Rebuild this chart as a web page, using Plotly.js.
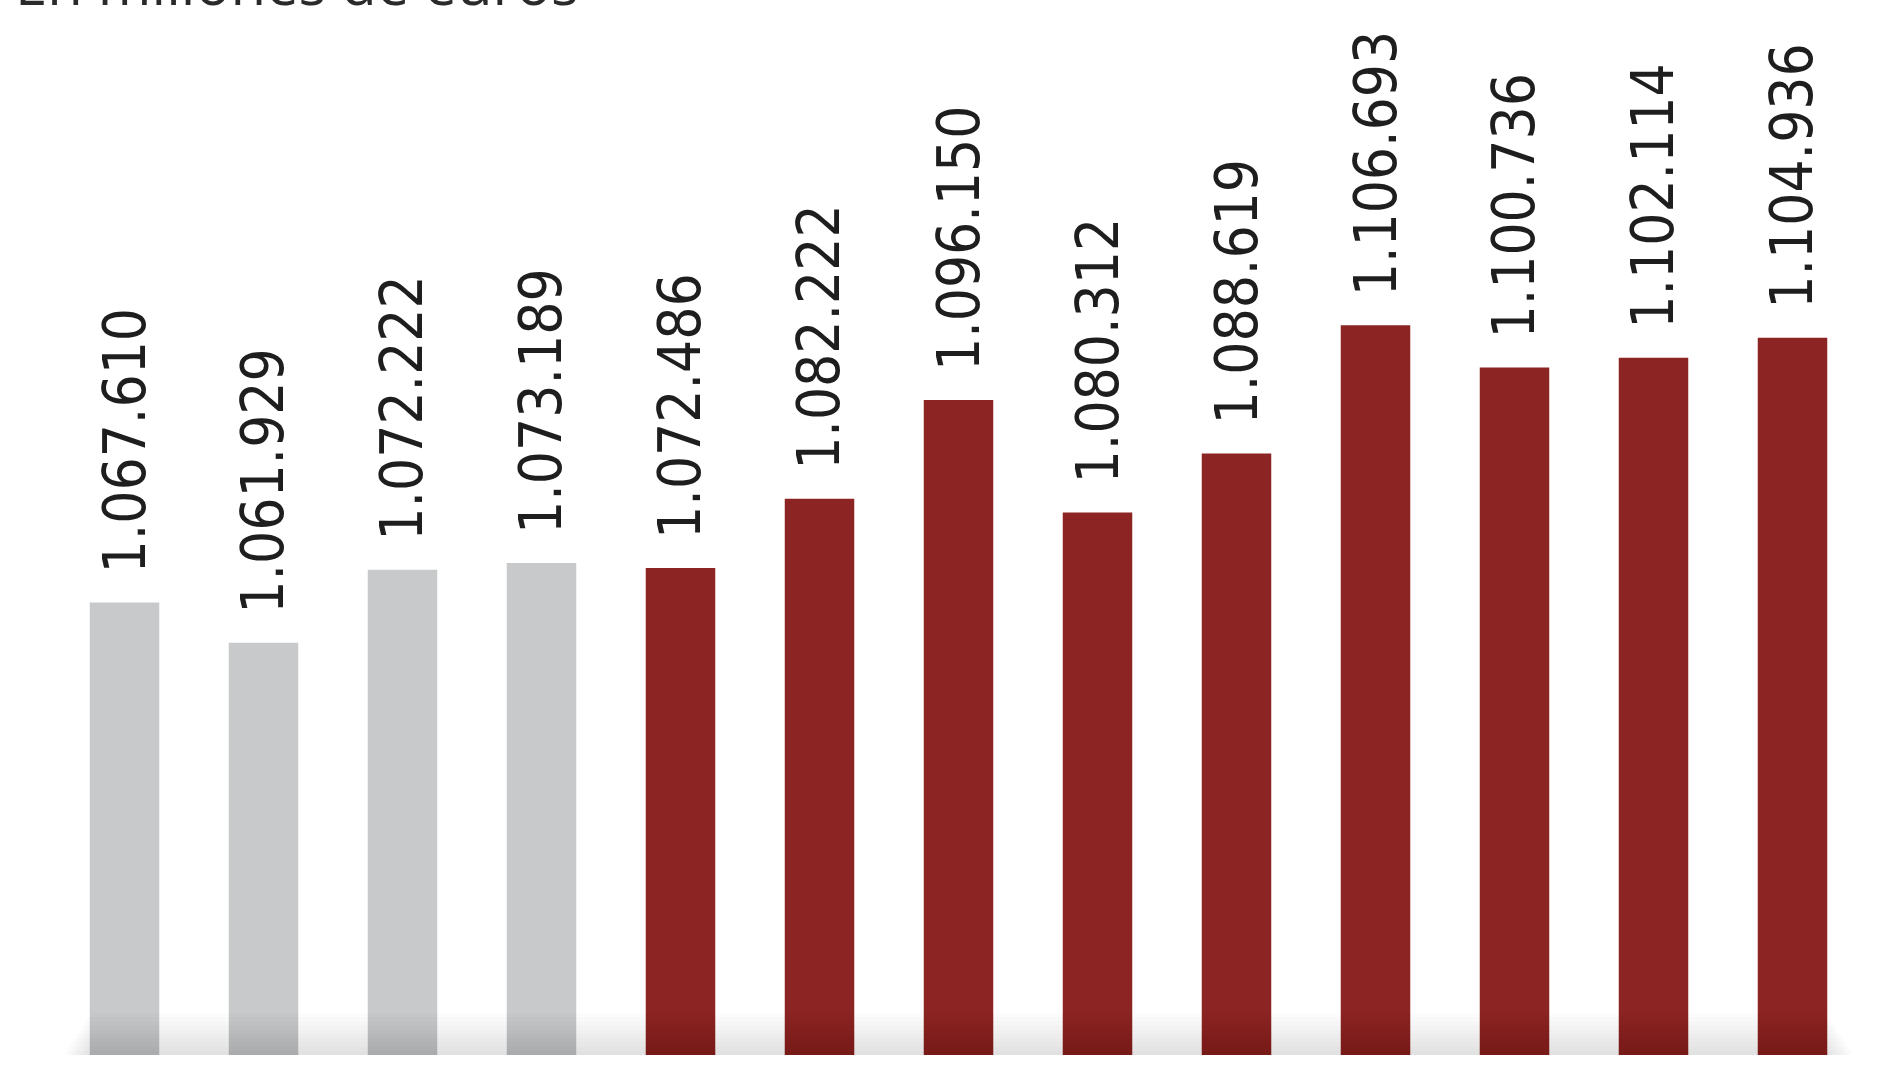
<!DOCTYPE html>
<html>
<head>
<meta charset="utf-8">
<script src="https://cdn.plot.ly/plotly-3.0.1.min.js"></script>
<style>html,body{margin:0;padding:0;background:#fff;}#chart{width:1900px;height:1069px;}</style>
</head>
<body>
<div id="chart"></div>
<script>
var categories = ["P1","P2","P3","P4","P5","P6","P7","P8","P9","P10","P11","P12","P13"];
var values = [1067610, 1061929, 1072222, 1073189, 1072486, 1082222, 1096150, 1080312, 1088619, 1106693, 1100736, 1102114, 1104936];
var labels = ["1.067.610","1.061.929","1.072.222","1.073.189","1.072.486","1.082.222","1.096.150","1.080.312","1.088.619","1.106.693","1.100.736","1.102.114","1.104.936"];
var groups = ["grey","grey","grey","grey","red","red","red","red","red","red","red","red","red"];
var subtitle = "En millones de euros";

var colorMap = {grey: "#c8c9cb", red: "#8b2422"};
var barColors = groups.map(function(g){ return colorMap[g]; });

var trace = {
  type: "bar",
  x: categories,
  y: values,
  marker: {color: barColors, line: {width: 0}},
  width: 0.5,
  hoverinfo: "none"
};

var annotations = categories.map(function(c, i){
  return {
    x: c, y: values[i], xref: "x", yref: "y",
    text: labels[i], showarrow: false, textangle: -90,
    xanchor: "center", yanchor: "bottom", yshift: 27,
    font: {family: "DejaVu Sans Condensed, DejaVu Sans, sans-serif", size: 58, color: "#1e1e1e"}
  };
});
annotations.push({
  x: -0.023, y: 1, xref: "paper", yref: "paper",
  xanchor: "left", yanchor: "bottom", yshift: -24,
  text: subtitle, showarrow: false,
  font: {family: "Open Sans, sans-serif", size: 58, color: "#2a2a2a"}
});

var shapes = [];
for (var k = 1; k <= 10; k++) {
  shapes.push({
    type: "rect", xref: "x", yref: "paper", layer: "above",
    x0: -0.45 + 0.02 * k, x1: 12.45 - 0.02 * k, y0: 0, y1: 0.004 * k,
    fillcolor: "rgba(0,0,0,0.011)", line: {width: 0}
  });
}

var layout = {
  width: 1900, height: 1069,
  margin: {l: 55, r: 38, t: 0, b: 14, pad: 0},
  paper_bgcolor: "#ffffff", plot_bgcolor: "#ffffff",
  showlegend: false,
  bargap: 0.5,
  xaxis: {type: "category", range: [-0.5, 12.5], showticklabels: false, showgrid: false, zeroline: false, showline: false, ticks: ""},
  yaxis: {range: [1003800, 1152560], showticklabels: false, showgrid: false, zeroline: false, showline: false, ticks: ""},
  annotations: annotations,
  shapes: shapes
};

Plotly.newPlot("chart", [trace], layout, {displayModeBar: false, staticPlot: true});
</script>
</body>
</html>
